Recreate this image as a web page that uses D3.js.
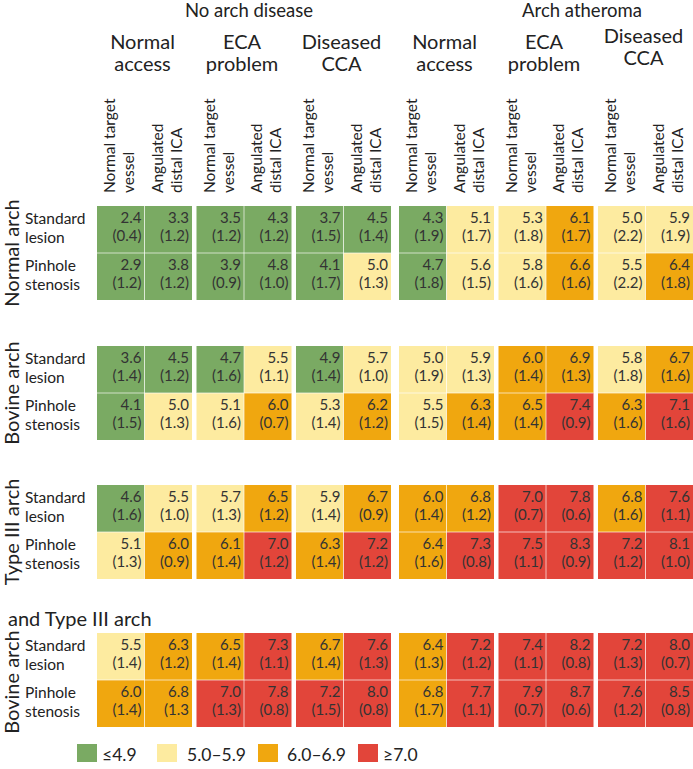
<!DOCTYPE html>
<html><head><meta charset="utf-8">
<script src="https://cdn.jsdelivr.net/npm/d3@7"></script>
<style>
html,body{margin:0;padding:0;background:#fff;}
svg{display:block;font-family:Lato,"Open Sans",sans-serif;}
</style></head>
<body>
<svg id="chart" width="693" height="769"></svg>
<script>
// ---------- data ----------
const diseases = ["No arch disease", "Arch atheroma"];
const accessTypes = [["Normal", "access"], ["ECA", "problem"], ["Diseased", "CCA"]];
const vessels = [["Normal target", "vessel"], ["Angulated", "distal ICA"]];
const archTypes = ["Normal arch", "Bovine arch", "Type III arch", "Bovine arch"];
const archExtra = ["", "", "", "and Type III arch"];
const lesions = [["Standard", "lesion"], ["Pinhole", "stenosis"]];

// rows: arch x lesion ; columns: disease x access x vessel
const means = [
  [2.4, 3.3, 3.5, 4.3, 3.7, 4.5, 4.3, 5.1, 5.3, 6.1, 5.0, 5.9],
  [2.9, 3.8, 3.9, 4.8, 4.1, 5.0, 4.7, 5.6, 5.8, 6.6, 5.5, 6.4],
  [3.6, 4.5, 4.7, 5.5, 4.9, 5.7, 5.0, 5.9, 6.0, 6.9, 5.8, 6.7],
  [4.1, 5.0, 5.1, 6.0, 5.3, 6.2, 5.5, 6.3, 6.5, 7.4, 6.3, 7.1],
  [4.6, 5.5, 5.7, 6.5, 5.9, 6.7, 6.0, 6.8, 7.0, 7.8, 6.8, 7.6],
  [5.1, 6.0, 6.1, 7.0, 6.3, 7.2, 6.4, 7.3, 7.5, 8.3, 7.2, 8.1],
  [5.5, 6.3, 6.5, 7.3, 6.7, 7.6, 6.4, 7.2, 7.4, 8.2, 7.2, 8.0],
  [6.0, 6.8, 7.0, 7.8, 7.2, 8.0, 6.8, 7.7, 7.9, 8.7, 7.6, 8.5]
];
const sdLabels = [
  ["(0.4)", "(1.2)", "(1.2)", "(1.2)", "(1.5)", "(1.4)", "(1.9)", "(1.7)", "(1.8)", "(1.7)", "(2.2)", "(1.9)"],
  ["(1.2)", "(1.2)", "(0.9)", "(1.0)", "(1.7)", "(1.3)", "(1.8)", "(1.5)", "(1.6)", "(1.6)", "(2.2)", "(1.8)"],
  ["(1.4)", "(1.2)", "(1.6)", "(1.1)", "(1.4)", "(1.0)", "(1.9)", "(1.3)", "(1.4)", "(1.3)", "(1.8)", "(1.6)"],
  ["(1.5)", "(1.3)", "(1.6)", "(0.7)", "(1.4)", "(1.2)", "(1.5)", "(1.4)", "(1.4)", "(0.9)", "(1.6)", "(1.6)"],
  ["(1.6)", "(1.0)", "(1.3)", "(1.2)", "(1.4)", "(0.9)", "(1.4)", "(1.2)", "(0.7)", "(0.6)", "(1.6)", "(1.1)"],
  ["(1.3)", "(0.9)", "(1.4)", "(1.2)", "(1.4)", "(1.2)", "(1.6)", "(0.8)", "(1.1)", "(0.9)", "(1.2)", "(1.0)"],
  ["(1.4)", "(1.2)", "(1.4)", "(1.1)", "(1.4)", "(1.3)", "(1.3)", "(1.2)", "(1.1)", "(0.8)", "(1.3)", "(0.7)"],
  ["(1.4)", "(1.3", "(1.3)", "(0.8)", "(1.5)", "(0.8)", "(1.7)", "(1.1)", "(0.7)", "(0.6)", "(1.2)", "(0.8)"]
];
const legendLabels = ["\u22644.9", "5.0\u20135.9", "6.0\u20136.9", "\u22657.0"];
const thresholds = [5, 6, 7];

// ---------- styles / layout ----------
const palette = ["#7aaa63", "#fdeba0", "#f0a70f", "#e2453a"];
const textColor = "#333";
const svg = d3.select("#chart");

const color = d3.scaleThreshold().domain(thresholds).range(palette);

const halfX = d3.scaleBand().domain(d3.range(diseases.length)).range([97, 693]).paddingInner(8 / 302);
const groupX = d3.scaleBand().domain(d3.range(accessTypes.length)).range([0, halfX.bandwidth()]).paddingInner(4.5 / 99.5);
const colX = d3.scaleBand().domain(d3.range(vessels.length)).range([0, groupX.bandwidth()]);
const blockY = d3.scaleOrdinal().domain(d3.range(archTypes.length)).range([206, 346, 485, 633]);
const rowY = d3.scaleBand().domain(d3.range(lesions.length)).range([0, 94]);

const nAcc = accessTypes.length, nVes = vessels.length;
const colLeft = c => {
  const h = Math.floor(c / (nAcc * nVes)), g = Math.floor(c / nVes) % nAcc, v = c % nVes;
  return halfX(h) + groupX(g) + colX(v);
};

// cells
const cells = [];
means.forEach((row, r) => row.forEach((m, c) => cells.push({
  r, c, m, sd: sdLabels[r][c],
  block: Math.floor(r / lesions.length), les: r % lesions.length
})));

const cg = svg.append("g");
cg.selectAll("rect.cell").data(cells).join("rect")
  .attr("class", "cell")
  .attr("x", d => colLeft(d.c))
  .attr("y", d => blockY(d.block) + rowY(d.les))
  .attr("width", colX.bandwidth())
  .attr("height", rowY.bandwidth())
  .attr("fill", d => color(d.m));

// internal separators
const groups = [];
archTypes.forEach((a, b) => diseases.forEach((dz, h) => accessTypes.forEach((ac, g) => groups.push({ b, h, g }))));
const sep = svg.append("g").attr("stroke", "#fff").attr("stroke-opacity", 0.65).attr("stroke-width", 1);
groups.forEach(o => {
  const gx = halfX(o.h) + groupX(o.g), gy = blockY(o.b);
  sep.append("line")
    .attr("x1", gx + colX(1)).attr("x2", gx + colX(1))
    .attr("y1", gy).attr("y2", gy + rowY.range()[1]);
  sep.append("line")
    .attr("x1", gx).attr("x2", gx + groupX.bandwidth())
    .attr("y1", gy + rowY(1)).attr("y2", gy + rowY(1));
});

// cell texts
const ct = svg.append("g").attr("fill", textColor).attr("font-size", 15).attr("text-anchor", "end");
ct.selectAll("text.m").data(cells).join("text")
  .attr("class", "m")
  .attr("x", d => colLeft(d.c) + colX.bandwidth() - 3)
  .attr("y", d => blockY(d.block) + rowY(d.les) + 17)
  .text(d => d.m.toFixed(1));
ct.selectAll("text.s").data(cells).join("text")
  .attr("class", "s")
  .attr("x", d => colLeft(d.c) + colX.bandwidth() - 3)
  .attr("y", d => blockY(d.block) + rowY(d.les) + 35)
  .text(d => d.sd);

// top headers
const headerX = [249, 582];
svg.append("g").selectAll("text").data(diseases).join("text")
  .attr("x", (d, i) => headerX[i]).attr("y", 17)
  .attr("text-anchor", "middle").attr("font-size", 18.5).attr("fill", "#222")
  .text(d => d);

const accHeaders = [];
diseases.forEach((dz, h) => accessTypes.forEach((ac, g) => accHeaders.push({ h, g, ac })));
const headerLift = (h, g) => (h === 1 && g === 2) ? -6 : 0;
const ah = svg.append("g").attr("font-size", 20).attr("fill", "#222").attr("text-anchor", "middle");
ah.selectAll("text").data(accHeaders).join("text")
  .attr("transform", d => `translate(${halfX(d.h) + groupX(d.g) + groupX.bandwidth() / 2 - 2},${49 + headerLift(d.h, d.g)})`)
  .each(function (d) {
    const t = d3.select(this);
    t.append("tspan").attr("x", 0).attr("y", 0).text(d.ac[0]);
    t.append("tspan").attr("x", 0).attr("y", 22).text(d.ac[1]);
  });

// rotated column labels
const colHeads = d3.range(diseases.length * nAcc * nVes).map(c => ({ c, v: c % nVes }));
const vh = svg.append("g").attr("font-size", 15.5).attr("fill", "#222");
vh.selectAll("text").data(colHeads).join("text")
  .attr("transform", d => `translate(${colLeft(d.c) + colX.bandwidth() / 2},193) rotate(-90)`)
  .each(function (d) {
    const t = d3.select(this);
    t.append("tspan").attr("x", 0).attr("y", -5.5).text(vessels[d.v][0]);
    t.append("tspan").attr("x", 0).attr("y", 13.5).text(vessels[d.v][1]);
  });

// row labels
const rowHeads = [];
archTypes.forEach((a, b) => lesions.forEach((l, li) => rowHeads.push({ b, li })));
const rh = svg.append("g").attr("font-size", 15.5).attr("fill", "#222");
rh.selectAll("text").data(rowHeads).join("text")
  .attr("x", 25)
  .attr("y", d => blockY(d.b) + rowY(d.li) + 18)
  .each(function (d) {
    const t = d3.select(this);
    t.append("tspan").attr("x", 25).attr("dy", 0).text(lesions[d.li][0]);
    t.append("tspan").attr("x", 25).attr("dy", 18.5).text(lesions[d.li][1]);
  });

// block labels
const bl = svg.append("g").attr("font-size", 20).attr("fill", "#222");
bl.selectAll("text.arch").data(archTypes).join("text")
  .attr("class", "arch")
  .attr("text-anchor", "middle")
  .attr("transform", (d, i) => `translate(19,${blockY(i) + rowY.range()[1] / 2 + (archExtra[i] ? 2 : 0)}) rotate(-90)`)
  .text(d => d);
bl.selectAll("text.extra").data(archExtra.map((e, i) => ({ e, i })).filter(d => d.e)).join("text")
  .attr("class", "extra")
  .attr("x", 8).attr("y", d => blockY(d.i) - 7)
  .text(d => d.e);

// legend
const legX = d3.scaleOrdinal().domain(d3.range(legendLabels.length)).range([77, 157, 258, 358]);
const legTextOff = [25, 30, 29, 25];
const lg = svg.append("g");
lg.selectAll("rect").data(legendLabels).join("rect")
  .attr("x", (d, i) => legX(i)).attr("y", 744)
  .attr("width", 20).attr("height", 18)
  .attr("fill", (d, i) => palette[i]);
lg.selectAll("text").data(legendLabels).join("text")
  .attr("x", (d, i) => legX(i) + legTextOff[i]).attr("y", 761)
  .attr("font-size", 17.5).attr("fill", "#222")
  .text(d => d);
</script>
</body></html>
